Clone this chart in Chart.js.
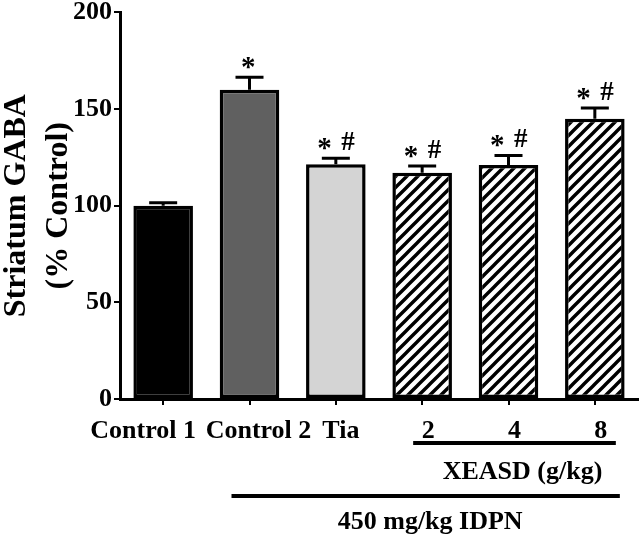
<!DOCTYPE html>
<html><head><meta charset="utf-8">
<script src="https://cdn.jsdelivr.net/npm/chart.js@4"></script>
<style>html,body{margin:0;padding:0;background:#fff}#wrap{width:642px;height:546px}</style>
</head><body><div id="wrap"><canvas id="c" width="642" height="546"></canvas></div>
<script>
// ---- data ----
const categories = ['Control 1', 'Control 2', 'Tia', '2', '4', '8'];
const gabaValues = [100, 160, 121.5, 117, 121, 145];
const semValues = [1.5, 6.5, 3, 3.5, 5, 5.5];
const starMarks = ['', '*', '*', '*', '*', '*'];
const hashMarks = ['', '', '#', '#', '#', '#'];
const yTicks = [0, 50, 100, 150, 200];
const xeasdLabel = 'XEASD (g/kg)';
const idpnLabel = '450 mg/kg IDPN';

// ---- style ----
const labelShift = [-20, 9, 5, 6, 6, 6];   // horizontal nudge of category labels (px)
const FONT = "'Liberation Serif', 'Times New Roman', serif";
const canvas = document.getElementById('c');
const ctx0 = canvas.getContext('2d');

function hatchPattern() {
  const n = 11;
  const p = document.createElement('canvas');
  p.width = n; p.height = n;
  const g = p.getContext('2d');
  g.fillStyle = '#fff'; g.fillRect(0, 0, n, n);
  g.strokeStyle = '#000'; g.lineWidth = 3.4;
  g.beginPath();
  g.moveTo(-3, n + 3); g.lineTo(n + 3, -3);
  g.moveTo(-3, 3); g.lineTo(3, -3);
  g.moveTo(n - 3, n + 3); g.lineTo(n + 3, n - 3);
  g.stroke();
  return ctx0.createPattern(p, 'repeat');
}
const hatch = hatchPattern();
const fills = ['#000000', '#606060', '#d4d4d4', hatch, hatch, hatch];

function centeredGlyph(ctx, txt, cx, cy) {
  const m = ctx.measureText(txt);
  const asc = m.actualBoundingBoxAscent, desc = m.actualBoundingBoxDescent;
  const l = m.actualBoundingBoxLeft, r = m.actualBoundingBoxRight;
  ctx.textBaseline = 'alphabetic';
  ctx.textAlign = 'left';
  ctx.fillText(txt, cx - (r - l) / 2 + l, cy + (asc - desc) / 2);
}

const extras = {
  id: 'extras',
  afterDatasetsDraw(chart) {
    const ctx = chart.ctx;
    const ys = chart.scales.y;
    const meta = chart.getDatasetMeta(0);
    ctx.save();
    ctx.strokeStyle = '#000'; ctx.fillStyle = '#000';
    meta.data.forEach((bar, i) => {
      const top = ys.getPixelForValue(gabaValues[i]);
      const et = ys.getPixelForValue(gabaValues[i] + semValues[i]);
      ctx.lineWidth = 3;
      ctx.beginPath();
      ctx.moveTo(bar.x, top); ctx.lineTo(bar.x, et);
      ctx.moveTo(bar.x - 14, et); ctx.lineTo(bar.x + 14, et);
      ctx.stroke();
      const hasHash = hashMarks[i] !== '';
      if (starMarks[i]) {
        ctx.font = 'bold 29px ' + FONT;
        centeredGlyph(ctx, starMarks[i], hasHash ? bar.x - 10 : bar.x, et - 14);
      }
      if (hasHash) {
        ctx.font = 'bold 27px ' + FONT;
        centeredGlyph(ctx, hashMarks[i], bar.x + 12.5, et - 17);
      }
    });
    ctx.restore();
  },
  afterDraw(chart) {
    const ctx = chart.ctx;
    const xs = chart.scales.x;
    const p = i => xs.getPixelForValue(i);
    ctx.save();
    ctx.fillStyle = '#000'; ctx.strokeStyle = '#000';
    // category labels
    ctx.font = 'bold 26px ' + FONT;
    ctx.textAlign = 'center'; ctx.textBaseline = 'alphabetic';
    categories.forEach((c, i) => ctx.fillText(c, p(i) + labelShift[i], 438));
    // group bars
    ctx.lineWidth = 4;
    ctx.beginPath();
    ctx.moveTo(p(3) - 9, 443); ctx.lineTo(p(5) + 21, 443);
    ctx.moveTo(p(1) - 18, 496); ctx.lineTo(p(5) + 25, 496);
    ctx.stroke();
    ctx.textBaseline = 'middle';
    ctx.fillText(xeasdLabel, (p(3) + p(5)) / 2 + 14, 472);
    ctx.fillText(idpnLabel, (p(1) + p(5)) / 2 + 8, 522);
    ctx.restore();
  }
};

new Chart(canvas, {
  type: 'bar',
  data: {
    labels: categories,
    datasets: [{
      data: gabaValues,
      backgroundColor: fills,
      borderColor: '#000',
      borderWidth: 3.5,
      borderSkipped: false,
      categoryPercentage: 1,
      barPercentage: 0.69
    }]
  },
  options: {
    responsive: false,
    animation: false,
    devicePixelRatio: 1,
    layout: { padding: { top: 12, right: 4, left: 0, bottom: 0 } },
    plugins: { legend: { display: false }, tooltip: { enabled: false } },
    scales: {
      x: {
        afterFit: s => { s.height = 147; },
        border: { color: '#000', width: 3 },
        grid: { display: true, drawOnChartArea: false, offset: false, tickLength: 6, color: '#000', lineWidth: 2 },
        ticks: { display: false }
      },
      y: {
        min: 0, max: 200,
        afterFit: s => { s.width = 120; },
        afterBuildTicks: s => { s.ticks = yTicks.map(v => ({ value: v })); },
        border: { color: '#000', width: 3 },
        grid: { display: true, drawOnChartArea: false, tickLength: 6, color: '#000', lineWidth: 2 },
        ticks: { color: '#000', font: { family: FONT, size: 26, weight: 'bold', lineHeight: 0.8 }, padding: 2 },
        title: {
          display: true,
          text: ['Striatum GABA', '(% Control)'],
          color: '#000',
          font: { family: FONT, size: 32, weight: 'bold', lineHeight: 1.3 },
          padding: { top: -4, bottom: 0 }
        }
      }
    }
  },
  plugins: [extras]
});
</script>
</body></html>
